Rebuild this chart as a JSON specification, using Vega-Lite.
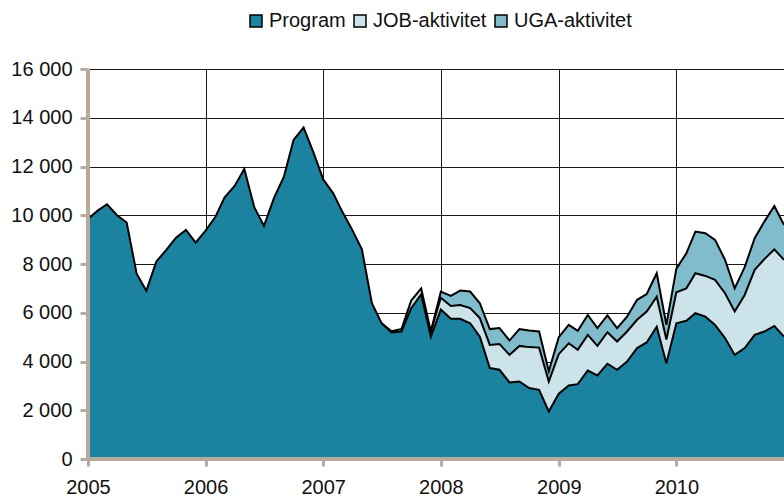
{
  "$schema": "https://vega.github.io/schema/vega-lite/v6.json",
  "width": 696,
  "height": 390,
  "autosize": {"type": "none"},
  "padding": {"left": 88, "top": 69, "right": 0, "bottom": 38},
  "background": "white",
  "config": {
    "view": {"stroke": null},
    "font": "Liberation Sans",
    "axis": {"labelFont": "Liberation Sans", "labelFontSize": 20, "labelColor": "#111111"},
    "legend": {"labelFont": "Liberation Sans", "labelFontSize": 20, "labelColor": "#111111"}
  },
  "data": {
    "values": [
      {"d": "2005-01-01", "s": "Program", "k": 3, "v": 9850},
      {"d": "2005-02-01", "s": "Program", "k": 3, "v": 10200},
      {"d": "2005-03-01", "s": "Program", "k": 3, "v": 10450},
      {"d": "2005-04-01", "s": "Program", "k": 3, "v": 10000},
      {"d": "2005-05-01", "s": "Program", "k": 3, "v": 9700},
      {"d": "2005-06-01", "s": "Program", "k": 3, "v": 7600},
      {"d": "2005-07-01", "s": "Program", "k": 3, "v": 6900},
      {"d": "2005-08-01", "s": "Program", "k": 3, "v": 8100},
      {"d": "2005-09-01", "s": "Program", "k": 3, "v": 8580},
      {"d": "2005-10-01", "s": "Program", "k": 3, "v": 9080},
      {"d": "2005-11-01", "s": "Program", "k": 3, "v": 9400},
      {"d": "2005-12-01", "s": "Program", "k": 3, "v": 8880},
      {"d": "2006-01-01", "s": "Program", "k": 3, "v": 9370},
      {"d": "2006-02-01", "s": "Program", "k": 3, "v": 9950},
      {"d": "2006-03-01", "s": "Program", "k": 3, "v": 10740},
      {"d": "2006-04-01", "s": "Program", "k": 3, "v": 11200},
      {"d": "2006-05-01", "s": "Program", "k": 3, "v": 11900},
      {"d": "2006-06-01", "s": "Program", "k": 3, "v": 10330},
      {"d": "2006-07-01", "s": "Program", "k": 3, "v": 9560},
      {"d": "2006-08-01", "s": "Program", "k": 3, "v": 10700},
      {"d": "2006-09-01", "s": "Program", "k": 3, "v": 11580},
      {"d": "2006-10-01", "s": "Program", "k": 3, "v": 13090},
      {"d": "2006-11-01", "s": "Program", "k": 3, "v": 13600},
      {"d": "2006-12-01", "s": "Program", "k": 3, "v": 12600},
      {"d": "2007-01-01", "s": "Program", "k": 3, "v": 11470},
      {"d": "2007-02-01", "s": "Program", "k": 3, "v": 10900},
      {"d": "2007-03-01", "s": "Program", "k": 3, "v": 10150},
      {"d": "2007-04-01", "s": "Program", "k": 3, "v": 9400},
      {"d": "2007-05-01", "s": "Program", "k": 3, "v": 8600},
      {"d": "2007-06-01", "s": "Program", "k": 3, "v": 6390},
      {"d": "2007-07-01", "s": "Program", "k": 3, "v": 5570},
      {"d": "2007-08-01", "s": "Program", "k": 3, "v": 5190},
      {"d": "2007-09-01", "s": "Program", "k": 3, "v": 5230},
      {"d": "2007-10-01", "s": "Program", "k": 3, "v": 6190},
      {"d": "2007-11-01", "s": "Program", "k": 3, "v": 6750},
      {"d": "2007-12-01", "s": "Program", "k": 3, "v": 5020},
      {"d": "2008-01-01", "s": "Program", "k": 3, "v": 6130},
      {"d": "2008-02-01", "s": "Program", "k": 3, "v": 5750},
      {"d": "2008-03-01", "s": "Program", "k": 3, "v": 5750},
      {"d": "2008-04-01", "s": "Program", "k": 3, "v": 5570},
      {"d": "2008-05-01", "s": "Program", "k": 3, "v": 5020},
      {"d": "2008-06-01", "s": "Program", "k": 3, "v": 3730},
      {"d": "2008-07-01", "s": "Program", "k": 3, "v": 3660},
      {"d": "2008-08-01", "s": "Program", "k": 3, "v": 3140},
      {"d": "2008-09-01", "s": "Program", "k": 3, "v": 3180},
      {"d": "2008-10-01", "s": "Program", "k": 3, "v": 2910},
      {"d": "2008-11-01", "s": "Program", "k": 3, "v": 2840},
      {"d": "2008-12-01", "s": "Program", "k": 3, "v": 1950},
      {"d": "2009-01-01", "s": "Program", "k": 3, "v": 2680},
      {"d": "2009-02-01", "s": "Program", "k": 3, "v": 3020},
      {"d": "2009-03-01", "s": "Program", "k": 3, "v": 3070},
      {"d": "2009-04-01", "s": "Program", "k": 3, "v": 3630},
      {"d": "2009-05-01", "s": "Program", "k": 3, "v": 3430},
      {"d": "2009-06-01", "s": "Program", "k": 3, "v": 3910},
      {"d": "2009-07-01", "s": "Program", "k": 3, "v": 3660},
      {"d": "2009-08-01", "s": "Program", "k": 3, "v": 4000},
      {"d": "2009-09-01", "s": "Program", "k": 3, "v": 4550},
      {"d": "2009-10-01", "s": "Program", "k": 3, "v": 4780},
      {"d": "2009-11-01", "s": "Program", "k": 3, "v": 5430},
      {"d": "2009-12-01", "s": "Program", "k": 3, "v": 3930},
      {"d": "2010-01-01", "s": "Program", "k": 3, "v": 5570},
      {"d": "2010-02-01", "s": "Program", "k": 3, "v": 5670},
      {"d": "2010-03-01", "s": "Program", "k": 3, "v": 5980},
      {"d": "2010-04-01", "s": "Program", "k": 3, "v": 5840},
      {"d": "2010-05-01", "s": "Program", "k": 3, "v": 5500},
      {"d": "2010-06-01", "s": "Program", "k": 3, "v": 4960},
      {"d": "2010-07-01", "s": "Program", "k": 3, "v": 4270},
      {"d": "2010-08-01", "s": "Program", "k": 3, "v": 4550},
      {"d": "2010-09-01", "s": "Program", "k": 3, "v": 5090},
      {"d": "2010-10-01", "s": "Program", "k": 3, "v": 5230},
      {"d": "2010-11-01", "s": "Program", "k": 3, "v": 5460},
      {"d": "2010-12-01", "s": "Program", "k": 3, "v": 5020},

      {"d": "2007-07-01", "s": "JOB-aktivitet", "k": 2, "v": 0},
      {"d": "2007-08-01", "s": "JOB-aktivitet", "k": 2, "v": 50},
      {"d": "2007-09-01", "s": "JOB-aktivitet", "k": 2, "v": 100},
      {"d": "2007-10-01", "s": "JOB-aktivitet", "k": 2, "v": 310},
      {"d": "2007-11-01", "s": "JOB-aktivitet", "k": 2, "v": 250},
      {"d": "2007-12-01", "s": "JOB-aktivitet", "k": 2, "v": 210},
      {"d": "2008-01-01", "s": "JOB-aktivitet", "k": 2, "v": 490},
      {"d": "2008-02-01", "s": "JOB-aktivitet", "k": 2, "v": 530},
      {"d": "2008-03-01", "s": "JOB-aktivitet", "k": 2, "v": 570},
      {"d": "2008-04-01", "s": "JOB-aktivitet", "k": 2, "v": 620},
      {"d": "2008-05-01", "s": "JOB-aktivitet", "k": 2, "v": 760},
      {"d": "2008-06-01", "s": "JOB-aktivitet", "k": 2, "v": 950},
      {"d": "2008-07-01", "s": "JOB-aktivitet", "k": 2, "v": 1060},
      {"d": "2008-08-01", "s": "JOB-aktivitet", "k": 2, "v": 1130},
      {"d": "2008-09-01", "s": "JOB-aktivitet", "k": 2, "v": 1460},
      {"d": "2008-10-01", "s": "JOB-aktivitet", "k": 2, "v": 1680},
      {"d": "2008-11-01", "s": "JOB-aktivitet", "k": 2, "v": 1730},
      {"d": "2008-12-01", "s": "JOB-aktivitet", "k": 2, "v": 1230},
      {"d": "2009-01-01", "s": "JOB-aktivitet", "k": 2, "v": 1620},
      {"d": "2009-02-01", "s": "JOB-aktivitet", "k": 2, "v": 1730},
      {"d": "2009-03-01", "s": "JOB-aktivitet", "k": 2, "v": 1410},
      {"d": "2009-04-01", "s": "JOB-aktivitet", "k": 2, "v": 1460},
      {"d": "2009-05-01", "s": "JOB-aktivitet", "k": 2, "v": 1210},
      {"d": "2009-06-01", "s": "JOB-aktivitet", "k": 2, "v": 1290},
      {"d": "2009-07-01", "s": "JOB-aktivitet", "k": 2, "v": 1160},
      {"d": "2009-08-01", "s": "JOB-aktivitet", "k": 2, "v": 1230},
      {"d": "2009-09-01", "s": "JOB-aktivitet", "k": 2, "v": 1160},
      {"d": "2009-10-01", "s": "JOB-aktivitet", "k": 2, "v": 1270},
      {"d": "2009-11-01", "s": "JOB-aktivitet", "k": 2, "v": 1230},
      {"d": "2009-12-01", "s": "JOB-aktivitet", "k": 2, "v": 970},
      {"d": "2010-01-01", "s": "JOB-aktivitet", "k": 2, "v": 1270},
      {"d": "2010-02-01", "s": "JOB-aktivitet", "k": 2, "v": 1330},
      {"d": "2010-03-01", "s": "JOB-aktivitet", "k": 2, "v": 1640},
      {"d": "2010-04-01", "s": "JOB-aktivitet", "k": 2, "v": 1670},
      {"d": "2010-05-01", "s": "JOB-aktivitet", "k": 2, "v": 1850},
      {"d": "2010-06-01", "s": "JOB-aktivitet", "k": 2, "v": 1840},
      {"d": "2010-07-01", "s": "JOB-aktivitet", "k": 2, "v": 1780},
      {"d": "2010-08-01", "s": "JOB-aktivitet", "k": 2, "v": 2180},
      {"d": "2010-09-01", "s": "JOB-aktivitet", "k": 2, "v": 2670},
      {"d": "2010-10-01", "s": "JOB-aktivitet", "k": 2, "v": 2970},
      {"d": "2010-11-01", "s": "JOB-aktivitet", "k": 2, "v": 3140},
      {"d": "2010-12-01", "s": "JOB-aktivitet", "k": 2, "v": 3150},

      {"d": "2007-12-01", "s": "UGA-aktivitet", "k": 1, "v": 0},
      {"d": "2008-01-01", "s": "UGA-aktivitet", "k": 1, "v": 250},
      {"d": "2008-02-01", "s": "UGA-aktivitet", "k": 1, "v": 410},
      {"d": "2008-03-01", "s": "UGA-aktivitet", "k": 1, "v": 590},
      {"d": "2008-04-01", "s": "UGA-aktivitet", "k": 1, "v": 680},
      {"d": "2008-05-01", "s": "UGA-aktivitet", "k": 1, "v": 610},
      {"d": "2008-06-01", "s": "UGA-aktivitet", "k": 1, "v": 650},
      {"d": "2008-07-01", "s": "UGA-aktivitet", "k": 1, "v": 650},
      {"d": "2008-08-01", "s": "UGA-aktivitet", "k": 1, "v": 590},
      {"d": "2008-09-01", "s": "UGA-aktivitet", "k": 1, "v": 690},
      {"d": "2008-10-01", "s": "UGA-aktivitet", "k": 1, "v": 680},
      {"d": "2008-11-01", "s": "UGA-aktivitet", "k": 1, "v": 660},
      {"d": "2008-12-01", "s": "UGA-aktivitet", "k": 1, "v": 420},
      {"d": "2009-01-01", "s": "UGA-aktivitet", "k": 1, "v": 700},
      {"d": "2009-02-01", "s": "UGA-aktivitet", "k": 1, "v": 750},
      {"d": "2009-03-01", "s": "UGA-aktivitet", "k": 1, "v": 780},
      {"d": "2009-04-01", "s": "UGA-aktivitet", "k": 1, "v": 820},
      {"d": "2009-05-01", "s": "UGA-aktivitet", "k": 1, "v": 730},
      {"d": "2009-06-01", "s": "UGA-aktivitet", "k": 1, "v": 690},
      {"d": "2009-07-01", "s": "UGA-aktivitet", "k": 1, "v": 550},
      {"d": "2009-08-01", "s": "UGA-aktivitet", "k": 1, "v": 610},
      {"d": "2009-09-01", "s": "UGA-aktivitet", "k": 1, "v": 820},
      {"d": "2009-10-01", "s": "UGA-aktivitet", "k": 1, "v": 720},
      {"d": "2009-11-01", "s": "UGA-aktivitet", "k": 1, "v": 960},
      {"d": "2009-12-01", "s": "UGA-aktivitet", "k": 1, "v": 600},
      {"d": "2010-01-01", "s": "UGA-aktivitet", "k": 1, "v": 970},
      {"d": "2010-02-01", "s": "UGA-aktivitet", "k": 1, "v": 1440},
      {"d": "2010-03-01", "s": "UGA-aktivitet", "k": 1, "v": 1710},
      {"d": "2010-04-01", "s": "UGA-aktivitet", "k": 1, "v": 1750},
      {"d": "2010-05-01", "s": "UGA-aktivitet", "k": 1, "v": 1640},
      {"d": "2010-06-01", "s": "UGA-aktivitet", "k": 1, "v": 1370},
      {"d": "2010-07-01", "s": "UGA-aktivitet", "k": 1, "v": 950},
      {"d": "2010-08-01", "s": "UGA-aktivitet", "k": 1, "v": 1140},
      {"d": "2010-09-01", "s": "UGA-aktivitet", "k": 1, "v": 1300},
      {"d": "2010-10-01", "s": "UGA-aktivitet", "k": 1, "v": 1540},
      {"d": "2010-11-01", "s": "UGA-aktivitet", "k": 1, "v": 1780},
      {"d": "2010-12-01", "s": "UGA-aktivitet", "k": 1, "v": 1430}
    ]
  },
  "layer": [
    {
      "transform": [
        {"stack": "v", "groupby": ["d"], "sort": [{"field": "k", "order": "descending"}], "as": ["y0", "y1"]}
      ],
      "layer": [
        {
          "mark": {"type": "area", "opacity": 1, "clip": true},
          "encoding": {
            "x": {
              "field": "d", "type": "temporal",
              "scale": {"type": "utc", "domain": [{"year": 2005, "month": 1, "date": 1, "utc": true}, {"year": 2010, "month": 12, "date": 1, "utc": true}]},
              "axis": {
                "title": null, "format": "%Y", "tickCount": {"interval": "year", "step": 1},
                "domain": false, "grid": true, "gridColor": "#1a1a1a", "gridWidth": 1, "gridOpacity": 1,
                "ticks": true, "tickColor": "#b5ab9f", "tickWidth": 3, "tickSize": 7,
                "labelPadding": 11, "labelFlush": false, "labelOverlap": false, "labelBound": false
              }
            },
            "y": {
              "field": "y1", "type": "quantitative",
              "scale": {"domain": [0, 16000], "nice": false},
              "axis": {
                "title": null, "values": [0, 2000, 4000, 6000, 8000, 10000, 12000, 14000, 16000],
                "labelExpr": "replace(format(datum.value, ','), ',', ' ')",
                "domain": false, "grid": true, "gridColor": "#1a1a1a", "gridWidth": 1, "gridOpacity": 1,
                "ticks": true, "tickColor": "#b5ab9f", "tickWidth": 3, "tickSize": 8,
                "labelPadding": 8
              }
            },
            "y2": {"field": "y0"},
            "color": {
              "field": "s", "type": "nominal",
              "scale": {"domain": ["Program", "JOB-aktivitet", "UGA-aktivitet"], "range": ["#1b83a0", "#cde3ea", "#80bccb"]},
              "legend": {
                "title": null, "orient": "none", "legendX": 158, "legendY": -58,
                "direction": "horizontal", "symbolType": "square", "symbolSize": 144,
                "symbolStrokeColor": "#000000", "symbolStrokeWidth": 1.5, "symbolOpacity": 1,
                "labelOffset": 3, "columnPadding": 4, "labelFontSize": 20
              }
            }
          }
        },
        {
          "mark": {"type": "line", "color": "#000000", "strokeWidth": 2, "clip": true},
          "encoding": {
            "x": {"field": "d", "type": "temporal"},
            "y": {"field": "y1", "type": "quantitative"},
            "detail": {"field": "s", "type": "nominal"}
          }
        }
      ]
    },
    {
      "mark": {"type": "rule", "color": "#b5ab9f", "strokeWidth": 4},
      "encoding": {"y": {"datum": 0, "type": "quantitative"}}
    },
    {
      "mark": {"type": "rule", "color": "#b5ab9f", "strokeWidth": 4},
      "encoding": {"x": {"datum": {"year": 2005, "month": 1, "date": 1, "utc": true}, "type": "temporal"}}
    }
  ]
}
